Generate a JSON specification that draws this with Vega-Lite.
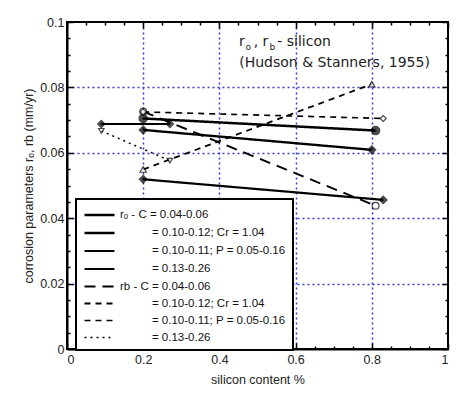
{
  "$schema": "https://vega.github.io/schema/vega-lite/v6.json",
  "width": 381,
  "height": 327,
  "autosize": "none",
  "padding": {"left": 67, "top": 22, "right": 15, "bottom": 47},
  "background": "white",
  "config": {
    "view": {"stroke": "black", "strokeWidth": 2},
    "font": "Liberation Sans",
    "axis": {
      "domainColor": "black",
      "domainWidth": 2,
      "tickColor": "black",
      "tickWidth": 1.5,
      "labelFontSize": 12.5,
      "labelColor": "#222",
      "titleFontSize": 12.5,
      "titleFontWeight": "normal",
      "titleColor": "#222",
      "gridColor": "#3a3ad6",
      "gridDash": [2, 3],
      "gridWidth": 1.5
    }
  },
  "data": {
    "values": [
      {"s": "rₒ - C = 0.04-0.06", "m": "a", "x": 0.2, "y": 0.0705},
      {"s": "rₒ - C = 0.04-0.06", "m": "a", "x": 0.81, "y": 0.0668},
      {"s": "\u200b\u00a0\u00a0\u00a0\u00a0\u00a0\u00a0\u00a0\u00a0\u00a0\u00a0= 0.10-0.12; Cr = 1.04", "m": "b", "x": 0.2, "y": 0.067},
      {"s": "\u200b\u00a0\u00a0\u00a0\u00a0\u00a0\u00a0\u00a0\u00a0\u00a0\u00a0= 0.10-0.12; Cr = 1.04", "m": "b", "x": 0.8, "y": 0.0609},
      {"s": "\u200b\u00a0\u00a0\u00a0\u00a0\u00a0\u00a0\u00a0\u00a0\u00a0\u00a0= 0.10-0.11; P = 0.05-0.16", "m": "c", "x": 0.2, "y": 0.0519},
      {"s": "\u200b\u00a0\u00a0\u00a0\u00a0\u00a0\u00a0\u00a0\u00a0\u00a0\u00a0= 0.10-0.11; P = 0.05-0.16", "m": "c", "x": 0.83, "y": 0.0456},
      {"s": "\u200b\u00a0\u00a0\u00a0\u00a0\u00a0\u00a0\u00a0\u00a0\u00a0\u00a0= 0.13-0.26", "m": "d", "x": 0.09, "y": 0.0688},
      {"s": "\u200b\u00a0\u00a0\u00a0\u00a0\u00a0\u00a0\u00a0\u00a0\u00a0\u00a0= 0.13-0.26", "m": "d", "x": 0.27, "y": 0.0688},
      {"s": "rb - C = 0.04-0.06", "m": "e", "x": 0.2, "y": 0.0726},
      {"s": "rb - C = 0.04-0.06", "m": "e", "x": 0.81, "y": 0.0438},
      {"s": "\u200b\u00a0\u00a0\u00a0\u00a0\u00a0\u00a0\u00a0\u00a0\u00a0\u00a0= 0.10-0.12; Cr = 1.04\u200b", "m": "f", "x": 0.2, "y": 0.0549},
      {"s": "\u200b\u00a0\u00a0\u00a0\u00a0\u00a0\u00a0\u00a0\u00a0\u00a0\u00a0= 0.10-0.12; Cr = 1.04\u200b", "m": "f", "x": 0.8, "y": 0.081},
      {"s": "\u200b\u00a0\u00a0\u00a0\u00a0\u00a0\u00a0\u00a0\u00a0\u00a0\u00a0= 0.10-0.11; P = 0.05-0.16\u200b", "m": "g", "x": 0.2, "y": 0.0725},
      {"s": "\u200b\u00a0\u00a0\u00a0\u00a0\u00a0\u00a0\u00a0\u00a0\u00a0\u00a0= 0.10-0.11; P = 0.05-0.16\u200b", "m": "g", "x": 0.83, "y": 0.0705},
      {"s": "\u200b\u00a0\u00a0\u00a0\u00a0\u00a0\u00a0\u00a0\u00a0\u00a0\u00a0= 0.13-0.26\u200b", "m": "h", "x": 0.09, "y": 0.0667},
      {"s": "\u200b\u00a0\u00a0\u00a0\u00a0\u00a0\u00a0\u00a0\u00a0\u00a0\u00a0= 0.13-0.26\u200b", "m": "h", "x": 0.27, "y": 0.0576}
    ]
  },
  "layer": [
    {
      "mark": {"type": "line", "color": "black"},
      "encoding": {
        "x": {
          "field": "x", "type": "quantitative",
          "scale": {"domain": [0, 1], "nice": false, "zero": false},
          "axis": {
            "orient": "bottom",
            "title": "silicon content %",
            "titlePadding": 8,
            "values": [0,0.05,0.1,0.15,0.2,0.25,0.3,0.35,0.4,0.45,0.5,0.55,0.6,0.65,0.7,0.75,0.8,0.85,0.9,0.95,1],
            "labelExpr": "abs(datum.value*5-round(datum.value*5))<0.001 ? format(datum.value,'~g') : ''",
            "labelPadding": 10,
            "tickSize": {"condition": {"test": "abs(datum.value*5-round(datum.value*5))<0.001", "value": -6}, "value": -3},
            "grid": true,
            "gridOpacity": {"condition": {"test": "abs(datum.value*5-round(datum.value*5))<0.001 && datum.value>0.01 && datum.value<0.99", "value": 1}, "value": 0}
          }
        },
        "y": {
          "field": "y", "type": "quantitative",
          "scale": {"domain": [0, 0.1], "nice": false},
          "axis": {
            "orient": "left",
            "title": "corrosion parameters  rₒ, rb  (mm/yr)",
            "titlePadding": 4,
            "values": [0,0.005,0.01,0.015,0.02,0.025,0.03,0.035,0.04,0.045,0.05,0.055,0.06,0.065,0.07,0.075,0.08,0.085,0.09,0.095,0.1],
            "labelExpr": "abs(datum.value*50-round(datum.value*50))<0.001 ? format(datum.value,'~g') : ''",
            "labelPadding": 9,
            "tickSize": {"condition": {"test": "abs(datum.value*50-round(datum.value*50))<0.001", "value": -6}, "value": -3},
            "grid": true,
            "gridOpacity": {"condition": {"test": "abs(datum.value*50-round(datum.value*50))<0.001 && datum.value>0.001 && datum.value<0.099", "value": 1}, "value": 0}
          }
        },
        "strokeDash": {
          "field": "s", "type": "nominal",
          "scale": {
            "domain": ["rₒ - C = 0.04-0.06", "\u200b\u00a0\u00a0\u00a0\u00a0\u00a0\u00a0\u00a0\u00a0\u00a0\u00a0= 0.10-0.12; Cr = 1.04", "\u200b\u00a0\u00a0\u00a0\u00a0\u00a0\u00a0\u00a0\u00a0\u00a0\u00a0= 0.10-0.11; P = 0.05-0.16", "\u200b\u00a0\u00a0\u00a0\u00a0\u00a0\u00a0\u00a0\u00a0\u00a0\u00a0= 0.13-0.26", "rb - C = 0.04-0.06", "\u200b\u00a0\u00a0\u00a0\u00a0\u00a0\u00a0\u00a0\u00a0\u00a0\u00a0= 0.10-0.12; Cr = 1.04\u200b", "\u200b\u00a0\u00a0\u00a0\u00a0\u00a0\u00a0\u00a0\u00a0\u00a0\u00a0= 0.10-0.11; P = 0.05-0.16\u200b", "\u200b\u00a0\u00a0\u00a0\u00a0\u00a0\u00a0\u00a0\u00a0\u00a0\u00a0= 0.13-0.26\u200b"],
            "range": [[1, 0], [1, 0], [1, 0], [1, 0], [11, 7], [6, 5], [6, 5], [2, 4]]
          },
          "legend": {
            "title": null,
            "orient": "none",
            "legendX": 9,
            "legendY": 177,
            "symbolType": "M-1,0L3,0",
            "symbolSize": 225,
            "symbolStrokeColor": "black",
            "labelFontSize": 11.5,
            "labelColor": "#111",
            "labelLimit": 300,
            "labelOffset": 19,
            "padding": 7,
            "rowPadding": 3,
            "fillColor": "white",
            "strokeColor": "black",
            "encode": {"legend": {"update": {"strokeWidth": {"value": 2}}}}
          }
        },
        "strokeWidth": {
          "field": "s", "type": "nominal",
          "scale": {
            "domain": ["rₒ - C = 0.04-0.06", "\u200b\u00a0\u00a0\u00a0\u00a0\u00a0\u00a0\u00a0\u00a0\u00a0\u00a0= 0.10-0.12; Cr = 1.04", "\u200b\u00a0\u00a0\u00a0\u00a0\u00a0\u00a0\u00a0\u00a0\u00a0\u00a0= 0.10-0.11; P = 0.05-0.16", "\u200b\u00a0\u00a0\u00a0\u00a0\u00a0\u00a0\u00a0\u00a0\u00a0\u00a0= 0.13-0.26", "rb - C = 0.04-0.06", "\u200b\u00a0\u00a0\u00a0\u00a0\u00a0\u00a0\u00a0\u00a0\u00a0\u00a0= 0.10-0.12; Cr = 1.04\u200b", "\u200b\u00a0\u00a0\u00a0\u00a0\u00a0\u00a0\u00a0\u00a0\u00a0\u00a0= 0.10-0.11; P = 0.05-0.16\u200b", "\u200b\u00a0\u00a0\u00a0\u00a0\u00a0\u00a0\u00a0\u00a0\u00a0\u00a0= 0.13-0.26\u200b"],
            "range": [2.5, 1.5, 1.5, 3, 1.5, 1.5, 3, 1.5]
          },
          "legend": null
        }
      }
    },
    {
      "mark": {"type": "point", "filled": true, "stroke": "black", "strokeWidth": 1.2},
      "encoding": {
        "x": {
          "field": "x", "type": "quantitative",
          "axis": {
            "orient": "top", "title": null, "labels": false, "grid": false, "domain": false,
            "values": [0,0.05,0.1,0.15,0.2,0.25,0.3,0.35,0.4,0.45,0.5,0.55,0.6,0.65,0.7,0.75,0.8,0.85,0.9,0.95,1],
            "tickSize": {"condition": {"test": "abs(datum.value*5-round(datum.value*5))<0.001", "value": -6}, "value": -3}
          }
        },
        "y": {
          "field": "y", "type": "quantitative",
          "axis": {
            "orient": "right", "title": null, "labels": false, "grid": false, "domain": false,
            "values": [0,0.005,0.01,0.015,0.02,0.025,0.03,0.035,0.04,0.045,0.05,0.055,0.06,0.065,0.07,0.075,0.08,0.085,0.09,0.095,0.1],
            "tickSize": {"condition": {"test": "abs(datum.value*50-round(datum.value*50))<0.001", "value": -6}, "value": -3}
          }
        },
        "shape": {
          "field": "m", "type": "nominal", "legend": null,
          "scale": {
            "domain": ["a", "b", "c", "d", "e", "f", "g", "h"],
            "range": ["circle", "diamond", "diamond", "diamond", "circle", "triangle-up", "diamond", "triangle-down"]
          }
        },
        "fill": {
          "field": "m", "type": "nominal", "legend": null,
          "scale": {
            "domain": ["a", "b", "c", "d", "e", "f", "g", "h"],
            "range": ["black", "black", "black", "black", "white", "white", "white", "white"]
          }
        },
        "size": {
          "field": "m", "type": "nominal", "legend": null,
          "scale": {
            "domain": ["a", "b", "c", "d", "e", "f", "g", "h"],
            "range": [70, 30, 30, 30, 60, 30, 30, 30]
          }
        }
      }
    },
    {
      "data": {"values": [{}]},
      "mark": {"type": "text", "align": "left", "baseline": "middle", "font": "DejaVu Sans", "fontSize": 14, "color": "#222", "text": "r\u00a0\u00a0, r\u00a0\u00a0- silicon"},
      "encoding": {
        "x": {"datum": 0.4515, "type": "quantitative", "axis": null},
        "y": {"datum": 0.0939, "type": "quantitative", "axis": null}
      }
    },
    {
      "data": {"values": [{}]},
      "mark": {"type": "text", "align": "left", "baseline": "middle", "font": "DejaVu Sans", "fontSize": 9, "color": "#222", "text": "o", "dx": 6.5, "dy": 5},
      "encoding": {
        "x": {"datum": 0.4515, "type": "quantitative", "axis": null},
        "y": {"datum": 0.0939, "type": "quantitative", "axis": null}
      }
    },
    {
      "data": {"values": [{}]},
      "mark": {"type": "text", "align": "left", "baseline": "middle", "font": "DejaVu Sans", "fontSize": 9, "color": "#222", "text": "b", "dx": 30.5, "dy": 5},
      "encoding": {
        "x": {"datum": 0.4515, "type": "quantitative", "axis": null},
        "y": {"datum": 0.0939, "type": "quantitative", "axis": null}
      }
    },
    {
      "data": {"values": [{}]},
      "mark": {"type": "text", "align": "left", "baseline": "middle", "font": "DejaVu Sans", "fontSize": 14, "color": "#222", "text": "(Hudson & Stanners, 1955)"},
      "encoding": {
        "x": {"datum": 0.452, "type": "quantitative", "axis": null},
        "y": {"datum": 0.0874, "type": "quantitative", "axis": null}
      }
    }
  ],
  "resolve": {"axis": {"x": "independent", "y": "independent"}}
}
